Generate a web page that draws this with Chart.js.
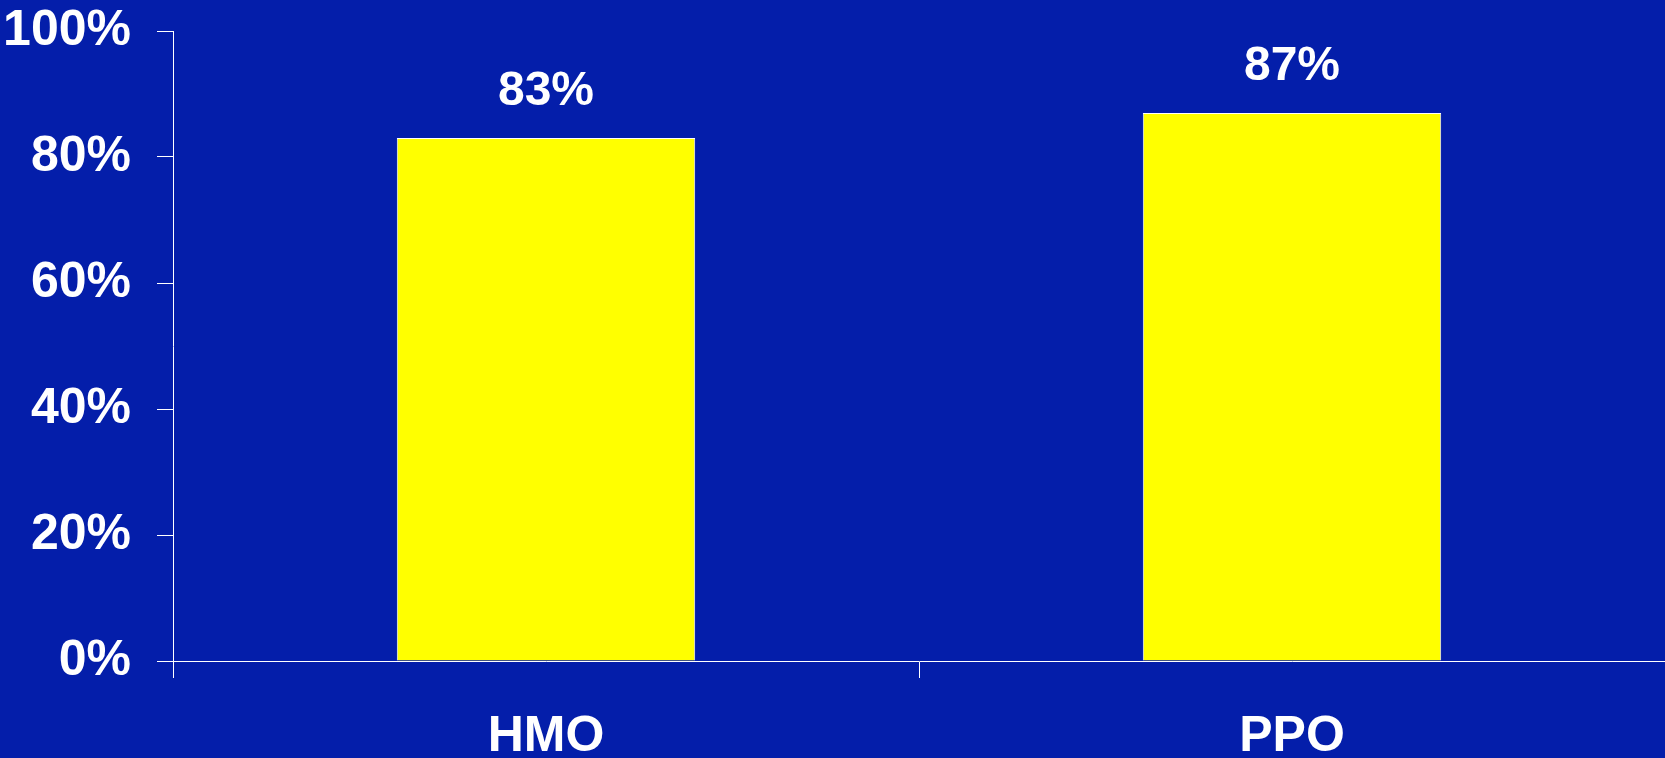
<!DOCTYPE html>
<html>
<head>
<meta charset="utf-8">
<script src="https://cdn.jsdelivr.net/npm/chart.js@4/dist/chart.umd.min.js"></script>
<style>
  html, body { margin: 0; padding: 0; background: #041EAA; overflow: hidden; }
  #wrap { width: 1665px; height: 758px; }
</style>
</head>
<body>
<div id="wrap"><canvas id="planChart" width="1665" height="758"></canvas></div>
<script>
const planTypes = ['HMO', 'PPO'];
const planValues = [83, 87];
const yTickValues = [0, 20, 40, 60, 80, 100];

const labelFont = { family: 'Liberation Sans, Arial, sans-serif', size: 50, weight: 'bold' };

// draws the percentage above each bar
const valueLabels = {
    id: 'valueLabels',
    afterDatasetsDraw(chart) {
        const ctx = chart.ctx;
        const meta = chart.getDatasetMeta(0);
        ctx.save();
        ctx.fillStyle = '#ffffff';
        ctx.font = 'bold 48px Liberation Sans, Arial, sans-serif';
        ctx.textAlign = 'center';
        ctx.textBaseline = 'middle';
        meta.data.forEach((bar, i) => {
            ctx.fillText(planValues[i] + '%', bar.x, bar.y - 46);
        });
        ctx.restore();
    }
};

const ctx = document.getElementById('planChart').getContext('2d');

new Chart(ctx, {
    type: 'bar',
    data: {
        labels: planTypes,
        datasets: [{
            data: planValues,
            backgroundColor: '#FFFF00',
            borderColor: '#ffffff',
            borderWidth: 1,
            barPercentage: 0.4,
            categoryPercentage: 1
        }]
    },
    options: {
        responsive: false,
        animation: false,
        layout: { padding: { top: 31, right: 0, left: 0, bottom: 0 } },
        plugins: {
            legend: { display: false },
            tooltip: { enabled: false }
        },
        scales: {
            x: {
                offset: true,
                afterFit(scale) { scale.height = 97; },
                border: { color: '#ffffff', width: 1 },
                grid: {
                    drawOnChartArea: false,
                    color: '#ffffff',
                    tickLength: 17,
                    offset: true
                },
                ticks: {
                    color: '#ffffff',
                    font: labelFont,
                    padding: 29
                }
            },
            y: {
                min: 0,
                max: 100,
                afterFit(scale) {
                    scale.width = 173;
                    scale.paddingTop = 0;
                    scale.paddingBottom = 0;
                },
                afterBuildTicks(scale) {
                    scale.ticks = yTickValues.map(v => ({ value: v }));
                },
                border: { color: '#ffffff', width: 1 },
                grid: {
                    drawOnChartArea: false,
                    color: '#ffffff',
                    tickLength: 16
                },
                ticks: {
                    color: '#ffffff',
                    font: labelFont,
                    padding: 26,
                    callback: v => v + '%'
                }
            }
        }
    },
    plugins: [valueLabels]
});
</script>
</body>
</html>
